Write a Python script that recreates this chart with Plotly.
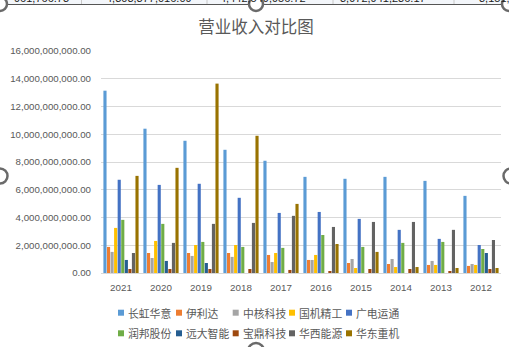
import plotly.graph_objects as go

years = ["2021", "2020", "2019", "2018", "2017", "2016", "2015", "2014", "2013", "2012"]
companies = ["长虹华意", "伊利达", "中核科技", "国机精工", "广电运通",
             "润邦股份", "远大智能", "宝鼎科技", "华西能源", "华东重机"]
colors = ["#5B9BD5", "#ED7D31", "#A5A5A5", "#FFC000", "#4472C4",
          "#70AD47", "#255E91", "#9E480E", "#636363", "#997300"]

# revenue in yuan
changhong = [13.14e9, 10.40e9, 9.53e9, 8.88e9, 8.09e9, 6.93e9, 6.79e9, 6.93e9, 6.64e9, 5.56e9]
yilida    = [1.88e9, 1.44e9, 1.44e9, 1.44e9, 1.30e9, 0.94e9, 0.72e9, 0.65e9, 0.58e9, 0.51e9]
zhonghe   = [1.52e9, 1.08e9, 1.23e9, 1.16e9, 0.79e9, 0.94e9, 1.01e9, 1.01e9, 0.87e9, 0.65e9]
guoji     = [3.25e9, 2.31e9, 2.02e9, 2.02e9, 1.44e9, 1.30e9, 0.36e9, 0.43e9, 0.58e9, 0.58e9]
guangdian = [6.72e9, 6.35e9, 6.43e9, 5.42e9, 4.33e9, 4.40e9, 3.90e9, 3.11e9, 2.46e9, 2.02e9]
runbang   = [3.83e9, 3.54e9, 2.24e9, 1.88e9, 1.81e9, 2.74e9, 1.88e9, 2.17e9, 2.24e9, 1.73e9]
yuanda    = [0.94e9, 0.87e9, 0.72e9, 0, 0, 0, 0, 0, 0, 1.44e9]
baoding   = [0.29e9, 0.29e9, 0.29e9, 0.29e9, 0.22e9, 0.14e9, 0.29e9, 0.29e9, 0.14e9, 0.29e9]
huaxi     = [1.44e9, 2.17e9, 3.54e9, 3.61e9, 4.12e9, 3.32e9, 3.68e9, 3.68e9, 3.11e9, 2.38e9]
huadong   = [7.00e9, 7.58e9, 13.65e9, 9.89e9, 4.98e9, 2.09e9, 1.52e9, 0.43e9, 0.36e9, 0.36e9]

series = [changhong, yilida, zhonghe, guoji, guangdian, runbang, yuanda, baoding, huaxi, huadong]

cell_texts = ["961,766.73", "4,303,377,016.09", "4,442,549,956.72", "3,972,941,236.17", "3,151,"]

W, H = 509, 347
L, R, T, B = 101, 8, 51, 74
PW, PH = W - L - R, H - T - B


def px(x):
    return (x - L) / PW


def py(y):
    return (H - B - y) / PH


fig = go.Figure()
for name, vals, c in zip(companies, series, colors):
    fig.add_trace(go.Bar(x=years, y=vals, name=name, marker_color=c,
                         marker_line_width=0, showlegend=False))

grey = "#595959"
fig.update_layout(
    width=W, height=H,
    margin=dict(l=L, r=R, t=T, b=B, pad=0),
    paper_bgcolor="white", plot_bgcolor="white",
    barmode="group", bargap=0.11, bargroupgap=0.12,
    font=dict(family="Liberation Sans", color=grey, size=9),
    title=dict(text="营业收入对比图", x=0.503, xanchor="center", y=1 - 27 / H, yanchor="middle",
               font=dict(family="Noto Sans CJK SC", size=16.5, color=grey)),
)
fig.update_yaxes(range=[0, 16e9], dtick=2e9, tickformat=",.2f", showgrid=True,
                 gridcolor="#D9D9D9", gridwidth=1, zeroline=False, showline=False,
                 ticks="", tickfont=dict(family="Liberation Sans", size=9.7, color=grey),
                 ticklabelstandoff=9)
fig.update_xaxes(type="category", showline=True, linecolor="#D9D9D9", linewidth=1,
                 ticks="", tickfont=dict(family="Liberation Sans", size=9.8, color=grey),
                 ticklabelstandoff=5)

# custom legend (Excel style small squares)
shapes = []
annotations = []
col_x = [118, 176, 232.7, 289, 346]
row_y = [312.7, 333.3]
for i, (name, c) in enumerate(zip(companies, colors)):
    r, k = divmod(i, 5)
    x0, yc = col_x[k], row_y[r]
    shapes.append(dict(type="rect", xref="paper", yref="paper",
                       x0=px(x0), x1=px(x0 + 6), y0=py(yc + 3), y1=py(yc - 3),
                       fillcolor=c, line_width=0))
    annotations.append(dict(text=name, xref="paper", yref="paper", x=px(x0 + 8), y=py(yc),
                            xanchor="left", yanchor="middle", showarrow=False,
                            font=dict(family="Noto Sans CJK SC", size=10.8, color=grey)))

# spreadsheet strip above chart (partially visible)
shapes.append(dict(type="rect", xref="paper", yref="paper", x0=px(0), x1=px(W),
                   y0=py(4), y1=py(-2), fillcolor="#F3F6FA", line_width=0, layer="below"))
shapes.append(dict(type="line", xref="paper", yref="paper", x0=px(0), x1=px(W),
                   y0=py(4.5), y1=py(4.5), line=dict(color="#555555", width=1.2)))
for sx in [81.5, 207, 333, 454]:
    shapes.append(dict(type="line", xref="paper", yref="paper", x0=px(sx), x1=px(sx),
                       y0=py(4), y1=py(-2), line=dict(color="#C8C8C8", width=1)))
cell_right = [71, 194, 308, 428, None]
for t, rx in zip(cell_texts, cell_right):
    if rx is None:
        annotations.append(dict(text=t, xref="paper", yref="paper", x=px(477), y=py(6),
                                xanchor="left", yanchor="bottom", showarrow=False,
                                font=dict(family="Liberation Sans", size=11, color="#222222")))
    else:
        annotations.append(dict(text=t, xref="paper", yref="paper", x=px(rx), y=py(6),
                                xanchor="right", yanchor="bottom", showarrow=False,
                                font=dict(family="Liberation Sans", size=11, color="#222222")))

# selection handles
for hx, hy, rad in [(0, 4, 7), (256, 4, 7), (509, 4, 7), (0, 176, 7.5), (511, 176, 7.5), (256, 351, 8)]:
    shapes.append(dict(type="circle", xref="paper", yref="paper", xsizemode="pixel", ysizemode="pixel",
                       xanchor=px(hx), yanchor=py(hy), x0=-rad, x1=rad, y0=-rad, y1=rad,
                       fillcolor="white", line=dict(color="#6A6A6A", width=2.5)))

fig.update_layout(shapes=shapes, annotations=annotations)
fig.write_html("out.html")
